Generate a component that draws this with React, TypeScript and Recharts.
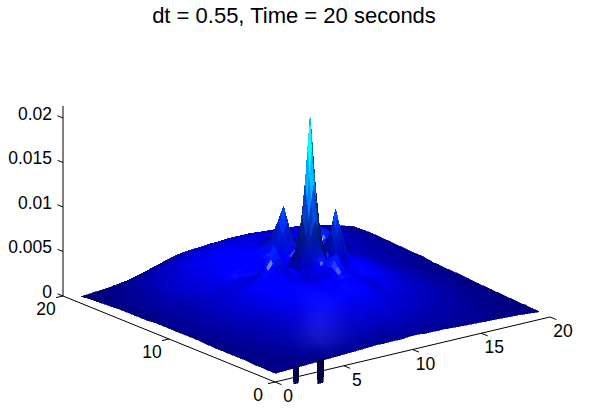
import React from "react";
import { ScatterChart, Scatter, XAxis, YAxis, ReferenceLine } from "recharts";

const FONT = "'Liberation Sans', Arial, sans-serif";
const TITLE = "dt = 0.55, Time = 20 seconds";

// grid positions along each floor axis
const uNodes = [0.8, 2.5, 4, 5.5, 7, 8, 9, 9.6, 10.1, 10.65, 11.2, 11.7, 12, 12.5, 13, 14, 15.5, 17, 18.5, 20];
const vNodes = [1, 2.5, 4, 5.5, 7, 8, 9, 9.5, 10, 10.5, 11, 11.5, 12, 12.5, 13, 14, 15.5, 17, 18.5, 19.3];

// surface height in units of 0.0001; one row per vNodes entry
const zRows = [
  [2, 3, 4, 5, 6, 7, 7, 7, 7, 8, 8, 7, 7, 7, 7, 6, 5, 4, 3, 1],
  [2, 5, 8, 11, 14, 15, 16, 17, 17, 18, 18, 17, 17, 16, 15, 14, 12, 8, 5, 2],
  [3, 7, 12, 17, 21, 23, 25, 26, 26, 27, 27, 26, 25, 24, 23, 20, 16, 11, 7, 3],
  [3, 9, 15, 22, 28, 31, 34, 34, 35, 36, 36, 34, 32, 31, 30, 27, 21, 15, 9, 4],
  [3, 10, 18, 26, 34, 38, 40, 40, 43, 45, 44, 40, 36, 34, 36, 32, 25, 18, 10, 5],
  [4, 11, 20, 29, 38, 43, 38, 38, 46, 66, 38, 36, 30, 28, 34, 34, 27, 19, 11, 6],
  [4, 12, 21, 31, 40, 42, 32, 34, 46, 54, 40, 30, 28, 36, 40, 38, 28, 20, 12, 7],
  [4, 12, 22, 32, 41, 44, 32, 30, 50, 64, 44, 28, 30, 44, 44, 40, 28, 21, 12, 7],
  [4, 13, 22, 33, 42, 54, 38, 38, 64, 94, 62, 34, 44, 68, 52, 42, 29, 21, 13, 7],
  [4, 13, 23, 33, 43, 74, 40, 44, 94, 208, 92, 44, 56, 98, 62, 44, 29, 21, 13, 8],
  [4, 13, 23, 31, 36, 54, 40, 40, 64, 94, 64, 40, 44, 68, 62, 48, 30, 22, 13, 8],
  [4, 13, 22, 30, 34, 36, 36, 36, 42, 50, 42, 44, 50, 54, 60, 52, 31, 23, 14, 9],
  [4, 13, 22, 30, 32, 30, 36, 38, 42, 52, 46, 52, 62, 64, 66, 52, 32, 24, 15, 10],
  [4, 13, 22, 30, 34, 38, 42, 46, 54, 68, 52, 58, 68, 70, 66, 50, 32, 24, 15, 10],
  [3, 13, 23, 31, 38, 40, 46, 54, 68, 96, 60, 54, 60, 62, 56, 46, 32, 24, 15, 10],
  [3, 13, 24, 32, 38, 40, 44, 48, 50, 58, 50, 46, 46, 46, 44, 41, 33, 25, 16, 11],
  [3, 12, 23, 32, 38, 40, 42, 42, 42, 43, 43, 42, 42, 42, 40, 38, 33, 26, 18, 12],
  [2, 10, 20, 28, 34, 36, 37, 37, 37, 38, 38, 37, 36, 36, 36, 34, 31, 26, 19, 13],
  [1, 6, 13, 20, 27, 29, 30, 31, 31, 32, 32, 32, 32, 32, 31, 30, 28, 24, 18, 12],
  [0, 2, 5, 10, 15, 18, 21, 22, 23, 24, 24, 24, 24, 24, 24, 24, 23, 20, 15, 9],
];

// the two narrow dips through the front edge: u position, half width, top and lowest z (0.0001)
const dipU = [2.3, 4.08];
const dipHalf = [0.22, 0.26];
const dipTop = [4, 6];
const dipLow = [-15, -21];

const xTicks = [0, 5, 10, 15, 20];
const yTicks = [0, 10, 20];
const zTicks = [0, 50, 100, 150, 200];
const zTickLabels = ["0", "0.005", "0.01", "0.015", "0.02"];

// view
const O = [275, 382];
const EX = [13.75, -3.25];
const EY = [-10.6, -4.3];
const PXZ = 0.89;
const project = (u: number, v: number, z: number) => [
  O[0] + EX[0] * u + EY[0] * v,
  O[1] + EX[1] * u + EY[1] * v - PXZ * z,
];

const clamp01 = (x: number) => Math.max(0, Math.min(1, x));
const palette = (z: number) => {
  const q = Math.round(Math.max(0, z) / 4) * 4;
  return [
    0,
    clamp01((q - 45) / 170),
    (0.45 + 0.55 * clamp01(q / 42)) * (1 - 0.2 * clamp01((q - 150) / 60)),
  ];
};
const norm = (a: number[]) => {
  const l = Math.hypot(a[0], a[1], a[2]);
  return a.map((x) => x / l);
};
const dot = (a: number[], b: number[]) => a[0] * b[0] + a[1] * b[1] + a[2] * b[2];
const LIGHT = norm([-0.25, -0.3, 0.92]);
const HALF = norm([-0.4, -0.4, 0.82]);
const SOFT = norm([-0.18, -0.27, 0.94]);
const FILL_LIGHT = norm([-0.6, -0.7, 0.2]);
const ZSCALE = 0.064;

const shade = (z: number, zu: number, zv: number) => {
  const base = palette(z);
  const n = norm([-zu * ZSCALE, -zv * ZSCALE, 1]);
  const d = Math.max(0, dot(n, LIGHT));
  const d2 = Math.max(0, dot(n, FILL_LIGHT)) * clamp01((z - 80) / 50);
  const s = Math.pow(Math.max(0, dot(n, HALF)), 80) * clamp01((z - 44) / 10);
  const soft = 0.16 * Math.pow(Math.max(0, dot(n, SOFT)), 300) * clamp01(1 - z / 45);
  const k = 0.1 + 1.0 * d + 0.75 * d2;
  const col = base.map((b) => Math.min(255, Math.round(255 * (b * k + 0.85 * s + soft))));
  return `rgb(${col[0]},${col[1]},${col[2]})`;
};

const grad = (nodes: number[], i: number, a: number, b: number, c: number) => {
  const lo = i > 0 ? nodes[i] - nodes[i - 1] : 0;
  const hi = i < nodes.length - 1 ? nodes[i + 1] - nodes[i] : 0;
  if (!lo) return (c - b) / hi;
  if (!hi) return (b - a) / lo;
  return (c - a) / (lo + hi);
};
const gu = zRows.map((r) => r.map((z, i) => grad(uNodes, i, r[i - 1], z, r[i + 1])));
const gv = zRows.map((r, j) => r.map((z, i) => grad(vNodes, j, zRows[j - 1]?.[i], z, zRows[j + 1]?.[i])));

type Facet = { px: number; py: number; pts: number[][]; fill: string };
const buildFacets = (): Facet[] => {
  const out: Facet[] = [];
  const lerp = (m: number[][], j: number, i: number, s: number, t: number) =>
    (1 - t) * ((1 - s) * m[j][i] + s * m[j][i + 1]) + t * ((1 - s) * m[j + 1][i] + s * m[j + 1][i + 1]);
  for (let j = vNodes.length - 2; j >= 0; j--) {
    for (let i = uNodes.length - 2; i >= 0; i--) {
      const du = uNodes[i + 1] - uNodes[i];
      const dv = vNodes[j + 1] - vNodes[j];
      const nu = Math.max(3, Math.ceil(du * 3));
      const nv = Math.max(3, Math.ceil(dv * 3));
      for (let b = nv - 1; b >= 0; b--) {
        for (let a = nu - 1; a >= 0; a--) {
          const corner = (p: number, q: number) => {
            const s = p / nu;
            const t = q / nv;
            return project(uNodes[i] + s * du, vNodes[j] + t * dv, lerp(zRows, j, i, s, t));
          };
          const s = (a + 0.5) / nu;
          const t = (b + 0.5) / nv;
          const pts = [corner(a, b), corner(a + 1, b), corner(a + 1, b + 1), corner(a, b + 1)];
          out.push({
            px: pts[0][0],
            py: pts[0][1],
            pts,
            fill: shade(lerp(zRows, j, i, s, t), lerp(gu, j, i, s, t), lerp(gv, j, i, s, t)),
          });
        }
      }
    }
  }
  dipU.forEach((u, k) => {
    const w = dipHalf[k];
    const pts = [project(u - w, 1, dipTop[k]), project(u + w, 1, dipTop[k]), project(u + w * 0.8, 1, dipLow[k]), project(u - w * 0.8, 1, dipLow[k])];
    out.push({ px: pts[0][0], py: pts[0][1], pts, fill: "rgb(0,0,70)" });
  });
  return out;
};
const facets = buildFacets();

const Poly = (p: any) => {
  const f: Facet = p.payload;
  const d = f.pts.map((q) => `${p.cx + q[0] - f.px},${p.cy + q[1] - f.py}`).join(" ");
  return <polygon points={d} fill={f.fill} stroke={f.fill} strokeWidth={0.6} shapeRendering="crispEdges" />;
};

type Lab = { px: number; py: number; text: string; anchor: string; size: number };
const labels: Lab[] = [
  { px: 294, py: 23, text: TITLE, anchor: "middle", size: 22 },
  ...xTicks.map((t) => {
    const p = project(t, 0, 0);
    return { px: p[0] + 13, py: p[1] + 20, text: String(t), anchor: "middle", size: 17.5 };
  }),
  ...yTicks.map((t) => {
    const p = project(0, t, 0);
    return { px: p[0] - 17, py: p[1] + 18.5, text: String(t), anchor: "middle", size: 17.5 };
  }),
  ...zTicks.map((t, i) => {
    const p = project(0, 20, t);
    return { px: 52, py: p[1] + 1.5, text: zTickLabels[i], anchor: "end", size: 17.5 };
  }),
];
const Label = (p: any) => {
  const l: Lab = p.payload;
  return (
    <text x={p.cx} y={p.cy} textAnchor={l.anchor as any} fontFamily={FONT} fontSize={l.size} fill="#000">
      {l.text}
    </text>
  );
};

const seg = (a: number[], b: number[]) => [
  { x: a[0], y: a[1] },
  { x: b[0], y: b[1] },
] as any;
const axisLine = (a: number[], b: number[], key: string) => (
  <ReferenceLine key={key} segment={seg(a, b)} stroke="#000" strokeWidth={1} ifOverflow="visible" />
);

export default function App() {
  const corner = project(0, 20, 0);
  return (
    <div style={{ position: "absolute", left: 0, top: 0, width: 596, height: 414, background: "#fff" }}>
      <ScatterChart width={596} height={414} margin={{ top: 0, right: 0, bottom: 0, left: 0 }}>
        <XAxis type="number" dataKey="px" domain={[0, 596]} hide />
        <YAxis type="number" dataKey="py" domain={[0, 414]} reversed hide />
        {axisLine(project(0, 0, 0), project(20, 0, 0), "xa")}
        {axisLine(project(0, 0, 0), corner, "ya")}
        {axisLine(corner, [corner[0], corner[1] - 190], "za")}
        {xTicks.map((t) => {
          const p = project(t, 0, 0);
          return axisLine(p, [p[0] + 6.4, p[1] + 2.6], `xt${t}`);
        })}
        {yTicks.map((t) => {
          const p = project(0, t, 0);
          return axisLine(p, [p[0] - 7, p[1] + 1.6], `yt${t}`);
        })}
        {zTicks.map((t) => {
          const p = project(0, 20, t);
          return axisLine(p, [p[0] - 5.5, p[1] - 2.2], `zt${t}`);
        })}
        <Scatter data={facets} shape={Poly} isAnimationActive={false} />
        <Scatter data={labels} shape={Label} isAnimationActive={false} />
      </ScatterChart>
    </div>
  );
}
